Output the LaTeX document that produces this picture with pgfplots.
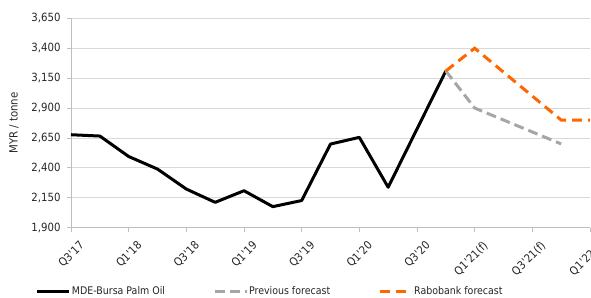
\documentclass[border=0pt]{standalone}
\usepackage{fontspec}
\setmainfont{DejaVu Sans}[FakeStretch=0.9]
\usepackage{pgfplots}
\pgfplotsset{compat=1.18}
\definecolor{gridgray}{RGB}{217,217,217}
\definecolor{axgray}{RGB}{191,191,191}
\definecolor{prevgray}{RGB}{166,166,166}
\definecolor{raboorange}{RGB}{255,102,0}
\definecolor{txt}{RGB}{38,38,38}
\newcommand\q{\textquotesingle}
\newcommand\fs{\fontsize{10.5bp}{12bp}\selectfont}
\newcommand\fst{\fontsize{11.3bp}{13bp}\selectfont}
\begin{document}
\begin{tikzpicture}[x=1bp,y=1bp]
\begin{axis}[
  name=ax,
  at={(0,0)}, anchor=south west,
  scale only axis,
  width=519bp, height=209.4bp,
  xmin=0, xmax=18,
  ymin=1900, ymax=3650,
  ytick={1900,2150,2400,2650,2900,3150,3400,3650},
  xtick={0,2,...,18},
  xticklabels={Q3\q17,Q1\q18,Q3\q18,Q1\q19,Q3\q19,Q1\q20,Q3\q20,Q1\q21(f),Q3\q21(f),Q1\q22(f)},
  axis x line*=bottom, axis y line*=left,
  axis line style={axgray, line width=0.8bp, -},
  tick align=outside,
  major tick length=4bp,
  tick style={axgray, line width=0.8bp},
  ymajorgrids,
  grid style={gridgray, line width=0.8bp},
  font=\fs,
  tick label style={txt, font=\fst},
  /pgf/number format/assume math mode=true,
  /pgf/number format/1000 sep={,},
  yticklabel style={xshift=-3bp},
  xticklabel style={rotate=45, anchor=north east, xshift=3bp, yshift=-8bp},
  ylabel={MYR / tonne},
  ylabel style={txt, font=\fst, at={(axis description cs:-0.11,0.5)}, anchor=center},
  legend style={at={(axis description cs:-0.068,-0.3056)}, anchor=west, draw=none, fill=none, inner sep=0pt,
    /tikz/every even column/.append style={column sep=47bp},
    nodes={inner sep=1bp, text=txt, font=\fs}},
  legend columns=3,
  legend cell align=left,
  legend image code/.code={\draw[#1] (0bp,0bp) -- (32bp,0bp);},
  clip=false,
]
\addplot[black, line width=3bp, line join=round] coordinates {
(0,2677) (1,2666) (2,2495) (3,2390) (4,2223) (5,2112) (6,2209) (7,2076) (8,2127)
(9,2599) (10,2655) (11,2238) (12,2725) (13,3210)};
\addlegendentry{MDE-Bursa Palm Oil}
\addplot[prevgray, line width=3bp, dash pattern=on 10bp off 5bp] coordinates {
(13,3210) (14,2900) (15,2800) (16,2700) (17,2600)};
\addlegendentry{Previous forecast}
\addplot[raboorange, line width=3bp, dash pattern=on 10bp off 6bp] coordinates {
(13,3210) (14,3400) (15,3200) (16,3000) (17,2800) (18,2800)};
\addlegendentry{Rabobank forecast}
\end{axis}
\pgfresetboundingbox
\path (ax.south west) ++(-71bp,-70.3bp) coordinate (bl);
\path (ax.north west) ++(520bp,18.3bp) coordinate (tr);
\useasboundingbox (bl) rectangle (tr);
\end{tikzpicture}
\end{document}
